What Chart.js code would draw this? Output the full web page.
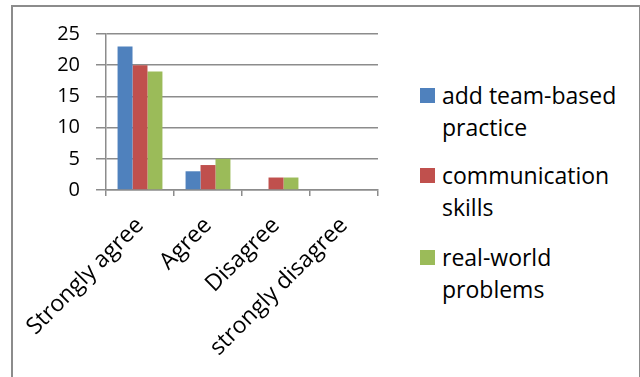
<!DOCTYPE html>
<html>
<head>
<meta charset="utf-8">
<script src="https://cdn.jsdelivr.net/npm/chart.js@4"></script>
<style>
  body { margin: 0; background: #fff; }
  #wrap { position: relative; width: 640px; height: 377px; overflow: hidden; background: #fff; }
  #frame { position: absolute; left: 11px; top: 5px; width: 626px; height: 400px; border: 2px solid #8c8c8c; border-bottom: none; }
  #chart { position: absolute; left: 0; top: 0; }
  .legend-item { position: absolute; left: 420px; width: 215px; font-family: "Open Sans", sans-serif; font-size: 23px; line-height: 32px; color: #000; }
  .legend-box { position: absolute; left: 0; top: 9px; width: 15px; height: 15px; }
  .legend-text { margin-left: 22px; width: 190px; }
</style>
</head>
<body>
<div id="wrap">
  <div id="frame"></div>
  <canvas id="chart" width="400" height="377"></canvas>
  <div id="legend"></div>
</div>
<script>
// Data
const categories = ["Strongly agree", "Agree", "Disagree", "strongly disagree"]
const seriesNames = ["add team-based practice", "communication skills", "real-world problems"]
const teamBased = [23, 3, 0, 0]
const communication = [20, 4, 2, 0]
const realWorld = [19, 5, 2, 0]
const yTicks = [0, 5, 10, 15, 20, 25]

const colors = ["#4F81BD", "#C0504D", "#9BBB59"]
const gridColor = "#8c8c8c"
const fontFamily = "'Open Sans', sans-serif"

const seriesValues = [teamBased, communication, realWorld]

const ctx = document.getElementById("chart").getContext("2d")

const chart = new Chart(ctx, {
  type: "bar",
  data: {
    labels: categories,
    datasets: seriesNames.map((name, i) => ({
      label: name,
      data: seriesValues[i],
      backgroundColor: colors[i],
      borderWidth: 0,
      categoryPercentage: 0.66,
      barPercentage: 1,
    })),
  },
  options: {
    responsive: false,
    animation: false,
    layout: { padding: { left: 0, top: 34, right: 22, bottom: 0 } },
    plugins: {
      legend: { display: false },
      tooltip: { enabled: false },
    },
    scales: {
      x: {
        grid: {
          drawOnChartArea: false,
          drawTicks: true,
          tickLength: 6,
          color: gridColor,
          lineWidth: 1.5,
        },
        border: { color: gridColor, width: 1.5 },
        ticks: {
          color: "#000",
          font: { family: fontFamily, size: 23 },
          maxRotation: 45,
          minRotation: 45,
          padding: 16,
        },
        afterFit: (scale) => { scale.height = 187 },
      },
      y: {
        min: 0,
        max: 25,
        afterBuildTicks: (scale) => { scale.ticks = yTicks.map((v) => ({ value: v })) },
        grid: {
          color: gridColor,
          lineWidth: 1.5,
          tickLength: 10,
        },
        border: { color: gridColor, width: 1.5 },
        ticks: {
          color: "#000",
          font: { family: fontFamily, size: 20 },
          padding: 16,
        },
        afterFit: (scale) => { scale.width = 106 },
      },
    },
  },
})

// HTML legend built from the chart datasets
const legendTops = [79, 159, 241]
const legendEl = document.getElementById("legend")
chart.data.datasets.forEach((ds, i) => {
  const item = document.createElement("div")
  item.className = "legend-item"
  item.style.top = legendTops[i] + "px"

  const box = document.createElement("div")
  box.className = "legend-box"
  box.style.background = ds.backgroundColor

  const text = document.createElement("div")
  text.className = "legend-text"
  text.textContent = ds.label

  item.appendChild(box)
  item.appendChild(text)
  legendEl.appendChild(item)
})
</script>
</body>
</html>
